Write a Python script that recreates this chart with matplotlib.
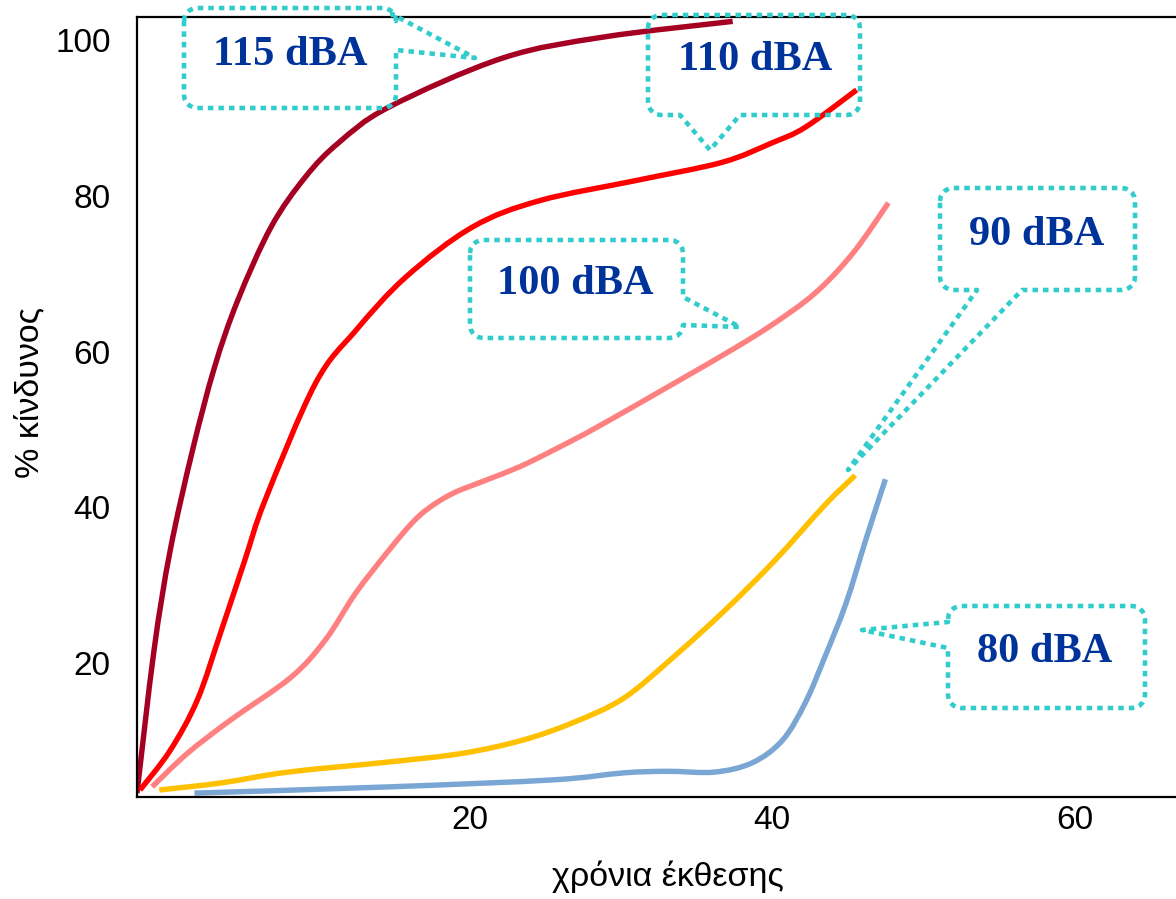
import numpy as np
import matplotlib.pyplot as plt
from matplotlib.path import Path
from matplotlib.patches import PathPatch
from matplotlib.lines import Line2D

# curves (years of exposure, % risk)
x115 = [-2.0, -0.87, 0.2, 1.67, 3.13, 4.67, 6.87, 9.13, 11.33, 14.67, 22.2, 28.9, 37.4]
y115 = [3.3, 21.7, 34.5, 47.3, 58.0, 66.6, 76.0, 82.4, 86.8, 91.4, 97.7, 100.4, 102.4]

x110 = [-1.8, 0.2, 2.0, 3.53, 5.13, 6.47, 9.8, 12.47, 15.8, 20.2, 24.67, 31.1,
        36.7, 40.0, 42.2, 45.6]
y110 = [3.7, 8.8, 15.3, 23.9, 33.2, 40.9, 55.9, 62.7, 69.6, 76.0, 79.4, 82.0,
        84.3, 86.8, 88.8, 93.6]

x100 = [-1.0, 1.33, 4.2, 8.2, 10.47, 12.47, 14.67, 16.2, 17.3, 18.9, 21.1, 23.3, 25.5, 28.9,
        37.5, 41.1, 43.3, 45.5, 47.7]
y100 = [4.1, 8.4, 12.7, 18.2, 23.0, 29.0, 34.5, 38.0, 39.9, 41.8, 43.5, 45.2, 47.3, 50.8,
        60.4, 64.9, 68.3, 73.0, 79.1]

x90 = [-0.53, 3.53, 8.0, 14.67, 19.5, 23.5, 26.9, 30.2, 33.5, 36.9, 40.2, 43.5, 45.5]
y90 = [3.7, 4.6, 6.0, 7.3, 8.4, 10.1, 12.4, 15.5, 20.8, 26.8, 33.2, 40.3, 44.1]

x80 = [1.8, 14.67, 25.5, 30.2, 33.1, 36.2, 38.7, 40.7, 42.2, 43.5, 44.9, 46.2, 47.5]
y80 = [3.3, 4.1, 5.0, 5.9, 6.1, 6.0, 7.2, 10.1, 14.9, 20.8, 27.7, 35.8, 43.6]

labels = ['115 dBA', '110 dBA', '100 dBA', '90 dBA', '80 dBA']
colors = ['#A50021', '#FF0000', '#FF8080', '#FFC000', '#7AA6D4']

W, H = 1176, 899


def smooth_path(xs, ys):
    # catmull-rom through the points, drawn as cubic beziers
    P = np.column_stack([xs, ys]).astype(float)
    n = len(P)
    verts = [P[0]]
    codes = [Path.MOVETO]
    for i in range(n - 1):
        p0 = P[i - 1] if i > 0 else P[i]
        p1, p2 = P[i], P[i + 1]
        p3 = P[i + 2] if i + 2 < n else P[i + 1]
        verts += [p1 + (p2 - p0) / 6, p2 - (p3 - p1) / 6, p2]
        codes += [Path.CURVE4] * 3
    return Path(verts, codes)


def callout(l, t, r, b, tail_side, tail, rad=13):
    # rounded box in pixel coords (y down), tail inserted on one side
    def arc(cx, cy, a0, a1):
        a = np.radians(np.linspace(a0, a1, 6))
        return [(cx + rad * np.cos(t_), cy + rad * np.sin(t_)) for t_ in a]
    pts = []
    pts += arc(l + rad, t + rad, 180, 270)
    if tail_side == 'top':
        pts += tail
    pts += arc(r - rad, t + rad, 270, 360)
    if tail_side == 'right':
        pts += tail
    pts += arc(r - rad, b - rad, 0, 90)
    if tail_side == 'bottom':
        pts += tail
    pts += arc(l + rad, b - rad, 90, 180)
    if tail_side == 'left':
        pts += tail
    pts.append(pts[0])
    pts = np.array(pts)
    return pts[:, 0] / W, 1 - pts[:, 1] / H


fig = plt.figure(figsize=(W / 100, H / 100), dpi=100)
ax = fig.add_axes([137 / W, 1 - 797 / H, 1 - 137 / W + 0.01, (797 - 16.7) / H])

for xs, ys, c in zip([x115, x110, x100, x90, x80], [y115, y110, y100, y90, y80], colors):
    ax.add_patch(PathPatch(smooth_path(xs, ys), fill=False, edgecolor=c, lw=3.9,
                           capstyle='butt'))

ax.set_xlim(-2.0, 67.5)
ax.set_ylim(2.8, 103.0)
ax.set_xticks([20, 40, 60])
ax.set_yticks([20, 40, 60, 80, 100])
ax.tick_params(length=0, labelsize=24, colors='black')
ax.tick_params(axis='y', pad=19)
ax.tick_params(axis='x', pad=6)
for lab in ax.get_xticklabels() + ax.get_yticklabels():
    lab.set_family('Liberation Sans')
for s in ['left', 'bottom', 'top']:
    ax.spines[s].set_linewidth(1.6)
ax.spines['right'].set_visible(False)

fig.text(30 / W, 1 - 392 / H, '% κίνδυνος', rotation=90, ha='center', va='center',
         fontsize=24.5, family='Liberation Sans')
fig.text(668 / W, 1 - 877 / H, 'χρόνια έκθεσης', ha='center', va='center',
         fontsize=24.5, family='Liberation Sans')

# callouts: box (l, t, r, b), side of tail, tail points, text centre
boxes = [
    ((184, 8, 396, 108), 'right', [(392, 14), (475, 58), (396, 50)], (290, 55)),
    ((648, 15, 860, 115), 'bottom', [(740, 115), (710, 150), (680, 115)], (755, 60)),
    ((470, 240, 683, 338), 'right', [(683, 297), (740, 327), (683, 325)], (575, 284)),
    ((940, 188, 1135, 290), 'bottom', [(1022, 290), (848, 470), (977, 290)], (1037, 235)),
    ((948, 606, 1145, 708), 'left', [(948, 648), (862, 630), (948, 622)], (1045, 652)),
]
for (box, side, tail, tc), lab in zip(boxes, labels):
    bx, by = callout(*box, side, tail)
    fig.add_artist(Line2D(bx, by, transform=fig.transFigure, color='#33CCCC', lw=3.3,
                          linestyle=(0, (1.2, 1.1)), dash_capstyle='butt'))
    fig.text(tc[0] / W, 1 - tc[1] / H, lab, ha='center', va='center', fontsize=30.5,
             fontweight='bold', family='Liberation Serif', color='#003399')

fig.savefig('out.png', dpi=100)
